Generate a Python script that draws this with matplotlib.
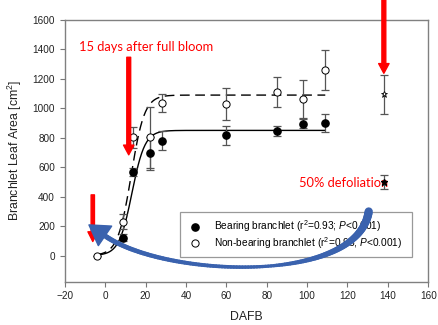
import numpy as np
import matplotlib
matplotlib.use("Agg")
import matplotlib.pyplot as plt
from matplotlib.collections import LineCollection

# -----------------------------
# Data
# -----------------------------
days_bearing = [9, 14, 22, 28, 60, 85, 98, 109]
area_bearing = [122, 566, 695, 781, 817, 845, 896, 900]
err_bearing = [25, 28, 113, 62, 65, 35, 30, 60]

days_nonbearing = [-4, 9, 14, 22, 28, 60, 85, 98, 109]
area_nonbearing = [0, 231, 802, 802, 1037, 1032, 1111, 1062, 1261]
err_nonbearing = [0, 50, 72, 205, 60, 108, 105, 130, 135]

# 50 % defoliation measurement (138 DAFB)
defol_day = [138]
defol_bearing = [502]
defol_bearing_err = [48]
defol_nonbearing = [1096]
defol_nonbearing_err = [133]

# sigmoid fits (max, x0, b) as drawn
fit_bearing = (850, 13.3, 3.2)
fit_nonbearing = (1090, 12.9, 3.3)
fit_range = (-4, 109)

x_ticks = [-20, 0, 20, 40, 60, 80, 100, 120, 140, 160]
y_ticks = [0, 200, 400, 600, 800, 1000, 1200, 1400, 1600]

label_bearing = r"Bearing branchlet (r$^2$=0.93; $P$<0.001)"
label_nonbearing = r"Non-bearing branchlet (r$^2$=0.93; $P$<0.001)"

# -----------------------------
# Style
# -----------------------------
plt.rcParams["font.family"] = ["Liberation Sans", "DejaVu Sans"]
plt.rcParams["mathtext.fontset"] = "custom"
plt.rcParams["mathtext.rm"] = "Liberation Sans"
plt.rcParams["mathtext.it"] = "Liberation Sans:italic"

fig = plt.figure(figsize=(4.39, 3.25), dpi=100)
ax = fig.add_axes([0.1474, 0.1332, 0.8282, 0.8052])


def sigmoid(x, a, x0, b):
    return a / (1 + np.exp(-(x - x0) / b))


xs = np.linspace(fit_range[0], fit_range[1], 400)
ax.plot(xs, sigmoid(xs, *fit_bearing), color="black", lw=1.0, zorder=2)
ax.plot(xs, sigmoid(xs, *fit_nonbearing), color="black", lw=1.0,
        linestyle=(0, (7, 4)), zorder=2)

eb_kw = dict(fmt="none", ecolor="#555555", elinewidth=0.9, capsize=3,
             capthick=0.9, zorder=3)
ax.errorbar(days_bearing, area_bearing, yerr=err_bearing, **eb_kw)
ax.errorbar(days_nonbearing, area_nonbearing, yerr=err_nonbearing, **eb_kw)
ax.errorbar(defol_day, defol_bearing, yerr=defol_bearing_err, **eb_kw)
ax.errorbar(defol_day, defol_nonbearing, yerr=defol_nonbearing_err, **eb_kw)

ax.plot(days_bearing, area_bearing, "o", color="black", ms=5.2,
        zorder=4, label=label_bearing)
ax.plot(days_nonbearing, area_nonbearing, "o", mfc="white", mec="black",
        mew=0.7, ms=5.2, zorder=4, label=label_nonbearing)
ax.plot(defol_day, defol_bearing, "*", color="black", ms=4.5, zorder=4)
ax.plot(defol_day, defol_nonbearing, "*", mfc="white", mec="black",
        mew=0.6, ms=4.5, zorder=4)

# -----------------------------
# Axes
# -----------------------------
ax.set_xlim(-20, 160)
ax.set_ylim(-178, 1600)
ax.set_xticks(x_ticks)
ax.set_yticks(y_ticks)
ax.tick_params(direction="out", length=3.5, width=0.8, color="#777777",
               labelsize=7.2, labelcolor="#222222")
for s in ax.spines.values():
    s.set_color("#808080")
    s.set_linewidth(1.0)

ax.set_xlabel("DAFB", fontsize=8.8, color="#222222", labelpad=7)
ax.set_ylabel(r"Branchlet Leaf Area [cm$^2$]", fontsize=8.8,
              color="#222222", labelpad=6)

leg = ax.legend(loc="lower left", bbox_to_anchor=(0.318, 0.0955, 0.637, 0.17),
                mode="expand", borderaxespad=0, fontsize=7.3, frameon=True,
                fancybox=False, edgecolor="#808080", handletextpad=1.1,
                borderpad=0.6, handlelength=1.6, labelspacing=0.05)
leg.get_frame().set_linewidth(0.9)

# -----------------------------
# Annotations
# -----------------------------
red = "#ff0000"
txt_font = ["Lato", "DejaVu Sans"]
ax.text(-12.7, 1419, "15 days after full bloom", color=red, fontsize=9.3,
        family=txt_font, ha="left", va="center")
ax.text(95.8, 491, "50% defoliation", color=red, fontsize=9.3,
        family=txt_font, ha="left", va="center", zorder=2)

arrow_kw = dict(arrowstyle="simple,head_width=7.5,head_length=7,tail_width=2.8",
                color=red, mutation_scale=1, shrinkA=0, shrinkB=0)
ax.annotate("", xy=(11.7, 684), xytext=(11.7, 1347), arrowprops=arrow_kw,
            zorder=5)
ax.annotate("", xy=(138, 1238), xytext=(138, 1740), arrowprops=arrow_kw,
            annotation_clip=False, zorder=5)
ax.annotate("", xy=(-6.1, 95), xytext=(-6.1, 412),
            arrowprops=dict(arrowstyle="simple,head_width=7,head_length=7,tail_width=2.4",
                            color=red, mutation_scale=1, shrinkA=0, shrinkB=0),
            zorder=5)

# blue curved arrow (tapered shaft) from the defoliation side back to the start
blue = "#3A62AE"
p0, p1, p2, p3 = map(np.array, [(130.5, 299), (125, -200), (30, -150), (0, 133)])
t = np.linspace(0, 1, 120)[:, None]
curve = ((1 - t) ** 3) * p0 + 3 * ((1 - t) ** 2) * t * p1 \
    + 3 * (1 - t) * t ** 2 * p2 + t ** 3 * p3
segs = np.stack([curve[:-1], curve[1:]], axis=1)
widths = np.interp(t[:-1, 0], [0, 0.45, 1], [6.0, 2.3, 3.6])
ax.add_collection(LineCollection(segs, linewidths=widths, colors=blue,
                                 capstyle="round", zorder=6))
ax.annotate("", xy=(-8, 208), xytext=(0, 133),
            arrowprops=dict(arrowstyle="simple,head_width=17,head_length=14,tail_width=2.5",
                            color=blue, mutation_scale=1, shrinkA=0, shrinkB=0),
            zorder=6)

fig.savefig("out.png", dpi=100)
